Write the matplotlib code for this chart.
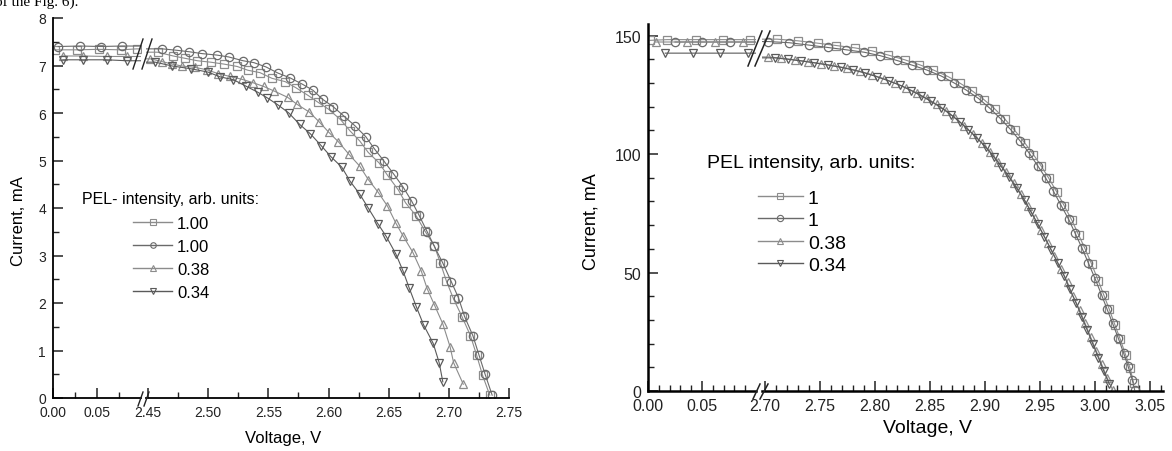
import matplotlib
matplotlib.use("Agg")
from matplotlib import pyplot as plt
from matplotlib.lines import Line2D
from matplotlib.ticker import FormatStrFormatter

plt.rcParams['font.family'] = ['Liberation Sans', 'DejaVu Sans']

W, H = 1172, 452

# ---------------- left chart: PEL- intensity ----------------
a_labels = ["1.00", "1.00", "0.38", "0.34"]

a_sq_v = [0.002, 0.027, 0.052, 0.077, 0.095,
          2.458, 2.471, 2.481, 2.491, 2.502, 2.513, 2.524, 2.533, 2.543, 2.553, 2.564, 2.573,
          2.583, 2.591, 2.600, 2.610, 2.618, 2.626, 2.633, 2.642, 2.649, 2.658, 2.664, 2.673,
          2.680, 2.688, 2.693, 2.698, 2.704, 2.711, 2.718, 2.723, 2.728, 2.734]
a_sq_i = [7.33, 7.33, 7.34, 7.33, 7.35,
          7.28, 7.20, 7.15, 7.10, 7.07, 7.03, 6.98, 6.90, 6.85, 6.73, 6.66, 6.53,
          6.37, 6.23, 6.08, 5.86, 5.62, 5.41, 5.17, 4.95, 4.69, 4.38, 4.11, 3.83,
          3.52, 3.20, 2.84, 2.46, 2.08, 1.71, 1.31, 0.91, 0.48, 0.06]

a_ci_v = [0.006, 0.031, 0.054, 0.078,
          2.462, 2.474, 2.484, 2.495, 2.507, 2.517, 2.529, 2.538, 2.548, 2.558, 2.568, 2.578,
          2.587, 2.595, 2.604, 2.613, 2.622, 2.631, 2.638, 2.646, 2.654, 2.662, 2.669, 2.675,
          2.682, 2.688, 2.695, 2.702, 2.708, 2.713, 2.720, 2.725, 2.730, 2.736]
a_ci_i = [7.40, 7.41, 7.40, 7.41,
          7.35, 7.32, 7.29, 7.25, 7.22, 7.18, 7.10, 7.06, 6.97, 6.84, 6.74, 6.61,
          6.48, 6.29, 6.13, 5.93, 5.73, 5.50, 5.25, 4.99, 4.72, 4.44, 4.15, 3.86,
          3.50, 3.19, 2.84, 2.45, 2.11, 1.72, 1.31, 0.91, 0.51, 0.06]

a_up_v = [0.011, 0.034, 0.061, 0.084,
          2.452, 2.462, 2.470, 2.478, 2.489, 2.499, 2.508, 2.518, 2.528, 2.537, 2.546, 2.555,
          2.566, 2.574, 2.584, 2.592, 2.600, 2.608, 2.617, 2.626, 2.633, 2.641, 2.649, 2.656,
          2.662, 2.670, 2.677, 2.682, 2.688, 2.695, 2.701, 2.704, 2.712]
a_up_i = [7.20, 7.20, 7.19, 7.19,
          7.14, 7.08, 7.03, 6.99, 6.96, 6.91, 6.83, 6.77, 6.71, 6.64, 6.56, 6.46,
          6.33, 6.18, 6.02, 5.82, 5.60, 5.40, 5.13, 4.88, 4.60, 4.34, 4.04, 3.68,
          3.41, 3.07, 2.68, 2.30, 1.96, 1.56, 1.08, 0.74, 0.29]

a_dn_v = [0.011, 0.034, 0.061, 0.084,
          2.456, 2.470, 2.486, 2.500, 2.510, 2.521, 2.531, 2.541, 2.549, 2.558, 2.567, 2.576,
          2.585, 2.594, 2.602, 2.611, 2.618, 2.626, 2.633, 2.641, 2.648, 2.656, 2.662, 2.667,
          2.673, 2.679, 2.687, 2.692, 2.695]
a_dn_i = [7.12, 7.12, 7.12, 7.10,
          7.07, 6.99, 6.93, 6.86, 6.76, 6.70, 6.57, 6.44, 6.32, 6.17, 6.00, 5.76,
          5.56, 5.31, 5.08, 4.86, 4.56, 4.29, 4.00, 3.67, 3.40, 3.03, 2.67, 2.32,
          1.92, 1.54, 1.15, 0.74, 0.34]

# ---------------- right chart: PEL intensity ----------------
b_labels = ["1", "1", "0.38", "0.34"]

b_sq_v = [0.002, 0.018, 0.044, 0.069, 0.094,
          2.711, 2.730, 2.748, 2.765, 2.782, 2.797, 2.812, 2.827, 2.840, 2.853, 2.866, 2.877,
          2.888, 2.899, 2.909, 2.918, 2.927, 2.936, 2.944, 2.951, 2.958, 2.965, 2.972, 2.979,
          2.985, 2.991, 2.997, 3.003, 3.008, 3.013, 3.018, 3.023, 3.028, 3.032, 3.035]
b_sq_i = [148.0, 148.3, 148.3, 148.3, 148.3,
          148.5, 147.8, 146.8, 145.8, 144.8, 143.6, 141.8, 139.8, 137.8, 135.5, 132.8, 130.0,
          126.8, 123.0, 119.0, 114.8, 110.0, 104.8, 99.8, 95.0, 89.8, 84.2, 78.2, 72.0,
          66.0, 60.0, 53.5, 46.5, 40.5, 34.5, 28.0, 21.8, 15.0, 9.5, 3.5]

b_ci_v = [0.025, 0.050, 0.076,
          2.703, 2.722, 2.740, 2.757, 2.774, 2.790, 2.805, 2.820, 2.834, 2.847, 2.860, 2.872,
          2.883, 2.894, 2.904, 2.914, 2.923, 2.932, 2.940, 2.948, 2.955, 2.962, 2.969, 2.976,
          2.982, 2.988, 2.994, 3.000, 3.006, 3.011, 3.016, 3.021, 3.026, 3.030, 3.034, 3.036]
b_ci_i = [147.3, 147.3, 147.3,
          147.5, 147.0, 146.0, 145.0, 144.0, 143.0, 141.5, 139.5, 137.5, 135.5, 133.0, 130.0,
          127.0, 123.5, 119.5, 115.0, 110.5, 105.5, 100.5, 95.0, 90.0, 84.5, 78.5, 72.5,
          66.5, 60.5, 54.0, 47.5, 40.5, 34.5, 28.5, 22.5, 16.0, 10.5, 4.5, 0.5]

b_up_v = [0.007, 0.036, 0.062, 0.088,
          2.703, 2.715, 2.727, 2.739, 2.751, 2.763, 2.775, 2.786, 2.797, 2.808, 2.818, 2.828,
          2.838, 2.847, 2.856, 2.865, 2.873, 2.881, 2.889, 2.897, 2.905, 2.912, 2.919, 2.926,
          2.933, 2.939, 2.945, 2.951, 2.957, 2.963, 2.969, 2.975, 2.980, 2.986, 2.991, 2.996,
          3.001, 3.006, 3.011, 3.016]
b_up_i = [147.3, 147.3, 147.3, 147.3,
          141.0, 140.5, 139.8, 139.0, 138.2, 137.3, 136.2, 135.0, 133.5, 131.8, 130.0, 128.0,
          125.8, 123.5, 121.0, 118.2, 115.2, 112.0, 108.5, 104.8, 100.8, 96.8, 92.5, 88.0,
          83.0, 78.0, 73.0, 67.8, 62.5, 57.0, 51.5, 45.8, 40.0, 34.2, 28.5, 22.8,
          17.0, 11.3, 5.6, 0.5]

b_dn_v = [0.016, 0.042, 0.067, 0.093,
          2.709, 2.721, 2.733, 2.745, 2.757, 2.769, 2.780, 2.791, 2.802, 2.813, 2.823, 2.833,
          2.842, 2.851, 2.860, 2.869, 2.877, 2.885, 2.893, 2.901, 2.908, 2.915, 2.922, 2.929,
          2.936, 2.942, 2.948, 2.954, 2.960, 2.966, 2.972, 2.977, 2.983, 2.988, 2.993, 2.998,
          3.003, 3.008, 3.013]
b_dn_i = [142.6, 142.6, 142.6, 142.6,
          140.6, 140.0, 139.3, 138.5, 137.6, 136.6, 135.5, 134.2, 132.6, 130.8, 129.0, 126.8,
          124.6, 122.2, 119.6, 116.6, 113.6, 110.2, 106.6, 102.8, 98.8, 94.6, 90.2, 85.5,
          80.5, 75.5, 70.4, 65.1, 59.7, 54.2, 48.6, 43.0, 37.0, 31.3, 25.6, 19.9,
          14.1, 8.4, 2.8]

markers = ['s', 'o', '^', 'v']
colors = ['#8c8c8c', '#6a6a6a', '#8c8c8c', '#5a5a5a']


def fx(px):
    return px / W


def fy(py):
    return 1 - py / H


def slash(fig, x0, y0, x1, y1, lw):
    fig.add_artist(Line2D([fx(x0), fx(x1)], [fy(y0), fy(y1)], transform=fig.transFigure,
                          color='#222222', lw=lw))


def panel(fig, box_l, box_r, xl_l, xl_r, ylim, series, ms, sp_lw, tick_fs,
          maj_l, min_l, maj_r, min_r, ymaj, ymin, yfmt):
    y0, y1 = fy(box_l[3]), fy(box_l[2])
    ax1 = fig.add_axes([fx(box_l[0]), y0, fx(box_l[1] - box_l[0]), y1 - y0])
    ax2 = fig.add_axes([fx(box_r[0]), y0, fx(box_r[1] - box_r[0]), y1 - y0], sharey=ax1)
    for ax in (ax1, ax2):
        for v, i, m, c in series:
            ax.plot(v, i, color=c, lw=0.8, marker=m, ms=ms, mfc='none', mec=c, mew=0.9)
        ax.spines['top'].set_visible(False)
        ax.spines['right'].set_visible(False)
        ax.spines['bottom'].set_linewidth(sp_lw)
        ax.spines['left'].set_linewidth(sp_lw)
        ax.tick_params(which='both', direction='in', labelsize=tick_fs, pad=5, colors='#222222')
        ax.tick_params(which='major', length=7, width=1.1)
        ax.tick_params(which='minor', length=4, width=1.0)
        ax.xaxis.set_major_formatter(FormatStrFormatter('%.2f'))
    ax1.set_xlim(*xl_l)
    ax2.set_xlim(*xl_r)
    ax1.set_ylim(*ylim)
    ax1.set_xticks(maj_l)
    ax1.set_xticks(min_l, minor=True)
    ax2.set_xticks(maj_r)
    ax2.set_xticks(min_r, minor=True)
    ax1.set_yticks(ymaj)
    ax1.set_yticks(ymin, minor=True)
    ax1.yaxis.set_major_formatter(FormatStrFormatter(yfmt))
    ax2.spines['left'].set_visible(False)
    ax2.tick_params(axis='y', which='both', left=False, labelleft=False)
    return ax1, ax2


fig = plt.figure(figsize=(W / 100, H / 100), dpi=100)

# partially visible line of the document text above the charts
fig.text(fx(-5), fy(6), "of the Fig. 6).", family=['Liberation Serif', 'DejaVu Serif'],
         fontsize=11, ha='left', va='baseline')

# ---- left chart ----
a_series = [(a_sq_v, a_sq_i, markers[0], colors[0]),
            (a_ci_v, a_ci_i, markers[1], colors[1]),
            (a_up_v, a_up_i, markers[2], colors[2]),
            (a_dn_v, a_dn_i, markers[3], colors[3])]
a1, a2 = panel(fig, (53, 141, 19, 399), (146, 509, 19, 399), (0, 0.1), (2.4483, 2.75), (0, 8),
               a_series, 6, 1.3, 10,
               [0, 0.05], [0.025, 0.075],
               [2.45, 2.50, 2.55, 2.60, 2.65, 2.70, 2.75],
               [2.475, 2.525, 2.575, 2.625, 2.675, 2.725],
               list(range(0, 9)), [k + 0.5 for k in range(8)], '%d')

fig.text(fx(19), fy(221), "Current, mA", rotation=90, fontsize=12, ha='center', va='center')
fig.text(fx(283), fy(443), "Voltage, V", fontsize=12, ha='center', va='baseline')
fig.text(fx(82), fy(200), "PEL- intensity, arb. units:", fontsize=11.5, ha='left', va='center')
a_handles = [Line2D([], [], color=colors[k], lw=1.0, marker=markers[k], ms=4, mfc='none',
                    mec=colors[k], mew=0.8) for k in range(4)]
fig.legend(a_handles, a_labels, loc='upper left', bbox_to_anchor=(fx(133), fy(217)),
           bbox_transform=fig.transFigure, frameon=False, fontsize=12, borderpad=0,
           borderaxespad=0, handlelength=2.35, handletextpad=0.3, labelspacing=0.47)

slash(fig, 133, 70, 143, 40, 1.0)
slash(fig, 142, 70, 152, 40, 1.0)
slash(fig, 138, 407, 143, 393, 1.0)
slash(fig, 144, 407, 149, 393, 1.0)

# ---- right chart ----
b_series = [(b_sq_v, b_sq_i, markers[0], colors[0]),
            (b_ci_v, b_ci_i, markers[1], colors[1]),
            (b_up_v, b_up_i, markers[2], colors[2]),
            (b_dn_v, b_dn_i, markers[3], colors[3])]
b1, b2 = panel(fig, (648, 756, 25, 392), (762, 1163, 25, 392), (0, 0.1), (2.6973, 3.0618),
               (0, 154.9), b_series, 6, 1.8, 11.5,
               [0, 0.05], [0.01, 0.02, 0.03, 0.04, 0.06, 0.07, 0.08, 0.09],
               [2.70, 2.75, 2.80, 2.85, 2.90, 2.95, 3.00, 3.05],
               [2.70 + 0.01 * k for k in range(1, 37) if k % 5 != 0],
               [0, 50, 100, 150], [10, 20, 30, 40, 60, 70, 80, 90, 110, 120, 130, 140], '%d')

fig.text(fx(591), fy(222), "Current, mA", rotation=90, fontsize=13, ha='center', va='center')
fig.text(fx(927), fy(433), "Voltage, V", fontsize=14, ha='center', va='baseline')
fig.text(fx(707), fy(163), "PEL intensity, arb. units:", fontsize=14, ha='left', va='center')
b_handles = [Line2D([], [], color=colors[k], lw=1.0, marker=markers[k], ms=4.5, mfc='none',
                    mec=colors[k], mew=0.8) for k in range(4)]
fig.legend(b_handles, b_labels, loc='upper left', bbox_to_anchor=(fx(758), fy(190)),
           bbox_transform=fig.transFigure, frameon=False, fontsize=14, borderpad=0,
           borderaxespad=0, handlelength=2.3, handletextpad=0.26, labelspacing=0.25)

slash(fig, 748, 67, 762, 32, 1.1)
slash(fig, 755, 67, 770, 32, 1.1)
slash(fig, 753, 400, 760, 385, 1.1)
slash(fig, 760, 400, 768, 385, 1.1)

fig.savefig("out.png", dpi=100)
